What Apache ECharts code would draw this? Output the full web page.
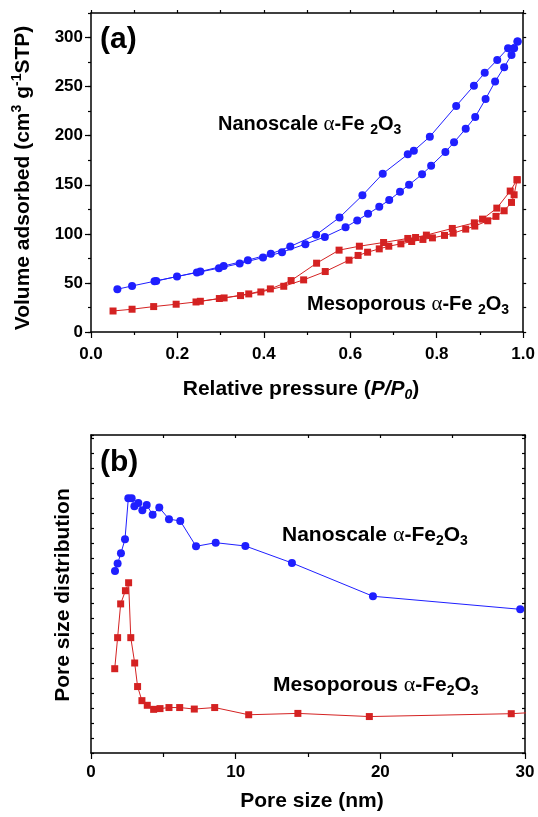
<!DOCTYPE html>
<html>
<head>
<meta charset="utf-8">
<title>N2 isotherms and pore size distribution</title>
<script src="https://cdn.jsdelivr.net/npm/echarts@6/dist/echarts.min.js"></script>
<style>
  html, body { margin: 0; padding: 0; background: #fff; }
  #chart { width: 538px; height: 817px; }
</style>
</head>
<body>
<div id="chart"></div>
<script>
// (a) isotherms, nanoscale: adsorption / desorption branch
const nanoAdsP = [0.061, 0.095, 0.147, 0.199, 0.245, 0.296, 0.344, 0.398, 0.442, 0.496, 0.541, 0.589, 0.616, 0.641, 0.667, 0.690, 0.715, 0.736, 0.766, 0.787, 0.820, 0.840, 0.867, 0.889, 0.913, 0.935, 0.956, 0.973, 0.979, 0.987]
const nanoAdsV = [43.6, 46.9, 51.7, 56.5, 60.6, 65.0, 69.8, 75.9, 81.3, 89.5, 96.9, 106.8, 113.7, 120.4, 127.6, 134.4, 142.9, 150.0, 160.6, 169.4, 183.4, 193.3, 207.1, 219.1, 237.4, 255.1, 269.8, 282.3, 289.2, 295.9]
const nanoDesP = [0.987, 0.965, 0.940, 0.911, 0.886, 0.845, 0.784, 0.747, 0.733, 0.675, 0.628, 0.575, 0.521, 0.461, 0.416, 0.363, 0.307, 0.253, 0.151]
const nanoDesV = [295.9, 289.2, 277.2, 264.0, 251.0, 230.3, 199.0, 184.7, 181.0, 161.2, 139.2, 116.7, 99.0, 87.1, 79.6, 73.2, 67.3, 61.6, 52.0]

// (a) isotherms, mesoporous
const mesoAdsP = [0.051, 0.095, 0.145, 0.197, 0.243, 0.297, 0.346, 0.393, 0.446, 0.492, 0.542, 0.597, 0.618, 0.640, 0.667, 0.689, 0.717, 0.742, 0.768, 0.790, 0.818, 0.838, 0.867, 0.888, 0.918, 0.937, 0.956, 0.973, 0.979, 0.986]
const mesoAdsV = [21.4, 23.2, 25.9, 28.3, 30.6, 34.1, 37.1, 40.8, 46.6, 53.1, 61.6, 73.2, 78.0, 81.3, 84.7, 87.4, 89.8, 92.2, 94.3, 95.9, 98.4, 100.7, 104.8, 107.9, 113.3, 117.8, 123.5, 132.0, 139.8, 155.1]
const mesoDesP = [0.986, 0.970, 0.939, 0.906, 0.887, 0.836, 0.776, 0.751, 0.733, 0.677, 0.621, 0.574, 0.522, 0.463, 0.415, 0.365, 0.308, 0.253]
const mesoDesV = [155.1, 143.6, 126.2, 115.0, 111.2, 105.5, 98.7, 96.3, 95.3, 91.2, 87.4, 83.4, 70.1, 52.4, 43.9, 38.8, 34.7, 31.3]

// (b) pore size distribution (arbitrary units)
const nanoPore = [1.66, 1.84, 2.07, 2.35, 2.58, 2.81, 3.00, 3.27, 3.55, 3.85, 4.26, 4.72, 5.39, 6.17, 7.26, 8.62, 10.67, 13.89, 19.49, 29.67]
const nanoPsd = [12.13, 12.63, 13.32, 14.25, 16.98, 16.98, 16.45, 16.67, 16.18, 16.53, 15.89, 16.36, 15.59, 15.47, 13.78, 14.02, 13.80, 12.67, 10.45, 9.58]
const mesoPore = [1.64, 1.84, 2.05, 2.38, 2.60, 2.75, 3.02, 3.22, 3.52, 3.89, 4.33, 4.77, 5.39, 6.13, 7.14, 8.55, 10.90, 14.30, 19.24, 29.05, 30.50]
const mesoPsd = [5.62, 7.69, 9.94, 10.82, 11.35, 7.69, 6.00, 4.43, 3.49, 3.18, 2.91, 2.96, 3.03, 3.03, 2.93, 3.03, 2.55, 2.64, 2.43, 2.62, 2.70]

// tick labels
const yTicksA = [0, 50, 100, 150, 200, 250, 300]
const xTicksB = [0, 10, 20, 30]

const FONT = 'Arial, "Liberation Sans", sans-serif'
const BLUE = '#1f1fff'
const RED = '#d42222'

const pairs = (xs, ys) => xs.map((x, i) => [x, ys[i]])

const lineStyleAxis = { color: '#000', width: 1.5 }
const labelFont = { color: '#000', fontFamily: FONT, fontWeight: 'bold', fontSize: 17 }

// axis without labels, used for the frame sides
const frameAxis = (gridIndex, position, min, max, interval, inside, len) => ({
  type: 'value', gridIndex, position, min, max, interval,
  axisLine: { show: true, onZero: false, lineStyle: lineStyleAxis },
  axisTick: { show: true, inside, length: len, lineStyle: { color: '#000', width: 1.2 } },
  axisLabel: { show: false },
  splitLine: { show: false }
})

// rich styles for labels
const rich = (size) => {
  const small = Math.round(size * 0.68)
  return {
    t: { fontFamily: FONT, fontWeight: 'bold', fontSize: size, lineHeight: size + 5, fill: '#000' },
    i: { fontFamily: FONT, fontWeight: 'bold', fontStyle: 'italic', fontSize: size, lineHeight: size + 5, fill: '#000' },
    a: { fontFamily: '"Liberation Serif", serif', fontSize: size + 1, lineHeight: size + 5, fill: '#000' },
    sub: { fontFamily: FONT, fontWeight: 'bold', fontSize: small, lineHeight: small, verticalAlign: 'bottom', fill: '#000' },
    subi: { fontFamily: FONT, fontWeight: 'bold', fontStyle: 'italic', fontSize: small, lineHeight: small, verticalAlign: 'bottom', fill: '#000' },
    sup: { fontFamily: FONT, fontWeight: 'bold', fontSize: small, lineHeight: small, verticalAlign: 'top', fill: '#000' }
  }
}

const textEl = (x, y, text, size, opts = {}) => ({
  type: 'text', x, y, rotation: opts.rotation || 0, z: 100,
  style: {
    text, rich: rich(size),
    textAlign: opts.align || 'left', align: opts.align || 'left',
    textVerticalAlign: opts.valign || 'top', verticalAlign: opts.valign || 'top'
  }
})

const formulaA = '{a|α}{t|-Fe }{sub|2}{t|O}{sub|3}'
const formulaB = '{a|α}{t|-Fe}{sub|2}{t|O}{sub|3}'

const option = {
  animation: false,
  backgroundColor: '#fff',
  grid: [
    { left: 91, top: 13, width: 434, height: 319 },
    { left: 91, top: 435, width: 434, height: 318 }
  ],
  xAxis: [
    {
      type: 'value', gridIndex: 0, position: 'bottom', min: 0, max: 1, interval: 0.2,
      axisLine: { show: true, onZero: false, lineStyle: lineStyleAxis },
      axisTick: { show: true, length: 6, lineStyle: { color: '#000', width: 1.2 } },
      minorTick: { show: true, splitNumber: 2, length: 3, lineStyle: { color: '#000', width: 1.2 } },
      axisLabel: { ...labelFont, margin: 14, formatter: v => v.toFixed(1) },
      splitLine: { show: false }
    },
    { ...frameAxis(0, 'top', 0, 1, 0.1, false, 3) },
    {
      type: 'value', gridIndex: 1, position: 'bottom', min: 0, max: 30, interval: 10,
      axisLine: { show: true, onZero: false, lineStyle: lineStyleAxis },
      axisTick: { show: true, length: 6, customValues: xTicksB, lineStyle: { color: '#000', width: 1.2 } },
      minorTick: { show: true, splitNumber: 2, length: 4, lineStyle: { color: '#000', width: 1.2 } },
      axisLabel: { ...labelFont, margin: 11 },
      splitLine: { show: false }
    },
    { ...frameAxis(1, 'top', 0, 30, 5, true, 3) }
  ],
  yAxis: [
    {
      type: 'value', gridIndex: 0, position: 'left', min: 0, max: 325, interval: 25,
      axisLine: { show: true, onZero: false, lineStyle: lineStyleAxis },
      axisTick: { show: true, length: 3, lineStyle: { color: '#000', width: 1.2 } },
      axisLabel: { ...labelFont, margin: 8, formatter: v => (yTicksA.includes(v) ? String(v) : '') },
      splitLine: { show: false }
    },
    { ...frameAxis(0, 'right', 0, 325, 25, false, 3) },
    // longer ticks at the labelled values
    {
      type: 'value', gridIndex: 0, position: 'left', min: 0, max: 325, interval: 50,
      axisLine: { show: false },
      axisTick: { show: true, length: 6, customValues: yTicksA, lineStyle: { color: '#000', width: 1.2 } },
      axisLabel: { show: false },
      splitLine: { show: false }
    },
    { ...frameAxis(1, 'left', 0, 21.2, 1, true, 3) },
    { ...frameAxis(1, 'right', 0, 21.2, 1, true, 3) }
  ],
  series: [
    { name: 'nano ads', data: pairs(nanoAdsP, nanoAdsV), color: BLUE, symbol: 'circle', symbolSize: 8 },
    { name: 'nano des', data: pairs(nanoDesP, nanoDesV), color: BLUE, symbol: 'circle', symbolSize: 8 },
    { name: 'meso ads', data: pairs(mesoAdsP, mesoAdsV), color: RED, symbol: 'rect', symbolSize: 7 },
    { name: 'meso des', data: pairs(mesoDesP, mesoDesV), color: RED, symbol: 'rect', symbolSize: 7 },
    { name: 'nano psd', xAxisIndex: 2, yAxisIndex: 3, data: pairs(nanoPore, nanoPsd), color: BLUE, symbol: 'circle', symbolSize: 8 },
    { name: 'meso psd', xAxisIndex: 2, yAxisIndex: 3, data: pairs(mesoPore, mesoPsd), color: RED, symbol: 'rect', symbolSize: 7 }
  ].map(s => ({
    type: 'line', xAxisIndex: 0, yAxisIndex: 0, clip: true,
    lineStyle: { width: 1 }, itemStyle: { borderWidth: 0 },
    ...s
  })),
  graphic: [
    textEl(100, 40, '{t|(a)}', 30, { valign: 'middle' }),
    textEl(218, 112, '{t|Nanoscale }' + formulaA, 20),
    textEl(307, 292, '{t|Mesoporous }' + formulaA, 20),
    textEl(23, 178, '{t|Volume adsorbed (cm}{sup|3}{t| g}{sup|-1}{t|STP)}', 21,
      { align: 'center', valign: 'middle', rotation: Math.PI / 2 }),
    textEl(301, 389, '{t|Relative pressure (}{i|P/P}{subi|0}{t|)}', 21, { align: 'center', valign: 'middle' }),
    textEl(100, 463, '{t|(b)}', 30, { valign: 'middle' }),
    textEl(282, 522, '{t|Nanoscale }' + formulaB, 21),
    textEl(273, 672, '{t|Mesoporous }' + formulaB, 21),
    textEl(63, 595, '{t|Pore size distribution}', 21, { align: 'center', valign: 'middle', rotation: Math.PI / 2 }),
    textEl(312, 801, '{t|Pore size (nm)}', 21, { align: 'center', valign: 'middle' })
  ]
}

const chart = echarts.init(document.getElementById('chart'), null, { renderer: 'canvas' })
chart.setOption(option)
window.addEventListener('resize', () => chart.resize())
</script>
</body>
</html>
